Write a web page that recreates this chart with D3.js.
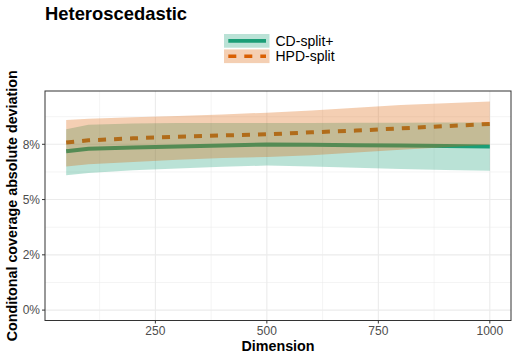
<!doctype html>
<html lang="en">
<head>
  <meta charset="utf-8" />
  <title>Heteroscedastic</title>
  <script src="https://d3js.org/d3.v7.min.js"></script>
  <style>
    body { margin: 0; background: #fff; }
    text { font-family: "Liberation Sans", Arial, Helvetica, sans-serif; }
  </style>
</head>
<body>
<div id="chart"></div>
<script>
  // values
  const dims = [50, 100, 200, 300, 400, 500, 600, 700, 800, 900, 1000];
  const cdMean = [0.0719, 0.0730, 0.0736, 0.0740, 0.0745, 0.0749, 0.0748, 0.0746, 0.0744, 0.0742, 0.0740];
  const cdLow = [0.0610, 0.0620, 0.0633, 0.0640, 0.0648, 0.0654, 0.0650, 0.0644, 0.0638, 0.0634, 0.0630];
  const cdHigh = [0.0818, 0.0838, 0.0844, 0.0846, 0.0846, 0.0846, 0.0846, 0.0847, 0.0847, 0.0848, 0.0848];
  const hpdMean = [0.0758, 0.0768, 0.0777, 0.0784, 0.0790, 0.0795, 0.0804, 0.0812, 0.0822, 0.0832, 0.0842];
  const hpdLow = [0.0649, 0.0660, 0.0670, 0.0680, 0.0688, 0.0693, 0.0700, 0.0713, 0.0725, 0.0737, 0.0748];
  const hpdHigh = [0.0860, 0.0865, 0.0872, 0.0878, 0.0885, 0.0893, 0.0903, 0.0915, 0.0928, 0.0936, 0.0944];

  const seriesNames = ["CD-split+", "HPD-split"];
  const seriesColors = ["#1B9E77", "#D95F02"];

  const xTicks = [250, 500, 750, 1000];
  const xMinor = [125, 375, 625, 875];
  const yTicks = [0, 0.025, 0.05, 0.075];
  const yTickLabels = ["0%", "2%", "5%", "8%"];
  const yMinor = [0.0125, 0.0375, 0.0625, 0.0875];

  const width = 516, height = 360;
  const panel = { left: 45, right: 511, top: 91, bottom: 320.5 };

  const svg = d3.select("#chart").append("svg")
    .attr("width", width)
    .attr("height", height);

  const x = d3.scaleLinear().domain([2.5, 1047.5]).range([panel.left, panel.right]);
  const y = d3.scaleLinear().domain([-0.0047, 0.0991]).range([panel.bottom, panel.top]);

  // grid
  const grid = svg.append("g");
  grid.selectAll(".xminor").data(xMinor).join("line")
    .attr("x1", d => x(d)).attr("x2", d => x(d))
    .attr("y1", panel.top).attr("y2", panel.bottom)
    .attr("stroke", "#EBEBEB").attr("stroke-width", 0.55);
  grid.selectAll(".yminor").data(yMinor).join("line")
    .attr("x1", panel.left).attr("x2", panel.right)
    .attr("y1", d => y(d)).attr("y2", d => y(d))
    .attr("stroke", "#EBEBEB").attr("stroke-width", 0.55);
  grid.selectAll(".xmajor").data(xTicks).join("line")
    .attr("x1", d => x(d)).attr("x2", d => x(d))
    .attr("y1", panel.top).attr("y2", panel.bottom)
    .attr("stroke", "#EBEBEB").attr("stroke-width", 1.1);
  grid.selectAll(".ymajor").data(yTicks).join("line")
    .attr("x1", panel.left).attr("x2", panel.right)
    .attr("y1", d => y(d)).attr("y2", d => y(d))
    .attr("stroke", "#EBEBEB").attr("stroke-width", 1.1);

  const series = [
    { name: seriesNames[0], color: seriesColors[0], mean: cdMean, low: cdLow, high: cdHigh, dash: null },
    { name: seriesNames[1], color: seriesColors[1], mean: hpdMean, low: hpdLow, high: hpdHigh, dash: "8,8" }
  ];

  const line = d3.line().x(d => x(d[0])).y(d => y(d[1]));
  const area = d3.area().x(d => x(d[0])).y0(d => y(d[1])).y1(d => y(d[2]));

  // lines are drawn first, ribbons go over them
  series.forEach(s => {
    svg.append("path")
      .datum(dims.map((d, i) => [d, s.mean[i]]))
      .attr("d", line)
      .attr("fill", "none")
      .attr("stroke", s.color)
      .attr("stroke-width", 4)
      .attr("stroke-dasharray", s.dash);
  });
  series.forEach(s => {
    svg.append("path")
      .datum(dims.map((d, i) => [d, s.low[i], s.high[i]]))
      .attr("d", area)
      .attr("fill", s.color)
      .attr("fill-opacity", 0.3);
  });

  // panel border
  svg.append("rect")
    .attr("x", panel.left).attr("y", panel.top)
    .attr("width", panel.right - panel.left)
    .attr("height", panel.bottom - panel.top)
    .attr("fill", "none").attr("stroke", "#333333").attr("stroke-width", 1);

  // axes
  const axisG = svg.append("g");
  axisG.selectAll(".yt").data(yTicks).join("line")
    .attr("x1", panel.left - 3).attr("x2", panel.left)
    .attr("y1", d => y(d)).attr("y2", d => y(d))
    .attr("stroke", "#333333").attr("stroke-width", 1);
  axisG.selectAll(".yl").data(yTicks).join("text")
    .attr("x", panel.left - 5)
    .attr("y", d => y(d) + 4.3)
    .attr("text-anchor", "end")
    .attr("font-size", "12px")
    .attr("fill", "#4D4D4D")
    .text((d, i) => yTickLabels[i]);
  axisG.selectAll(".xt").data(xTicks).join("line")
    .attr("x1", d => x(d)).attr("x2", d => x(d))
    .attr("y1", panel.bottom).attr("y2", panel.bottom + 3)
    .attr("stroke", "#333333").attr("stroke-width", 1);
  axisG.selectAll(".xl").data(xTicks).join("text")
    .attr("x", d => x(d))
    .attr("y", 335)
    .attr("text-anchor", "middle")
    .attr("font-size", "12px")
    .attr("fill", "#4D4D4D")
    .text(d => d);

  svg.append("text")
    .attr("x", (panel.left + panel.right) / 2)
    .attr("y", 350.5)
    .attr("text-anchor", "middle")
    .attr("font-size", "14.3px")
    .attr("font-weight", "bold")
    .text("Dimension");

  svg.append("text")
    .attr("transform", `translate(16.5, ${(panel.top + panel.bottom) / 2}) rotate(-90)`)
    .attr("text-anchor", "middle")
    .attr("font-size", "14.3px")
    .attr("font-weight", "bold")
    .text("Conditonal coverage absolute deviation");

  svg.append("text")
    .attr("x", 45)
    .attr("y", 20)
    .attr("font-size", "18.4px")
    .attr("font-weight", "bold")
    .text("Heteroscedastic");

  // legend
  const keyW = 45.5, keyH = 13.7;
  const legendG = svg.append("g").attr("transform", "translate(224, 34)");
  const items = legendG.selectAll(".item").data(series).join("g")
    .attr("transform", (d, i) => `translate(0, ${i * 15.4})`);
  items.append("rect")
    .attr("width", keyW).attr("height", keyH)
    .attr("fill", d => d.color).attr("fill-opacity", 0.3);
  items.append("line")
    .attr("x1", 4.3).attr("x2", keyW - 3.5)
    .attr("y1", keyH / 2).attr("y2", keyH / 2)
    .attr("stroke", d => d.color)
    .attr("stroke-width", 3.7)
    .attr("stroke-dasharray", d => d.dash);
  items.append("text")
    .attr("x", 51.5)
    .attr("y", keyH / 2 + 4.9)
    .attr("font-size", "14px")
    .text(d => d.name);
</script>
</body>
</html>
